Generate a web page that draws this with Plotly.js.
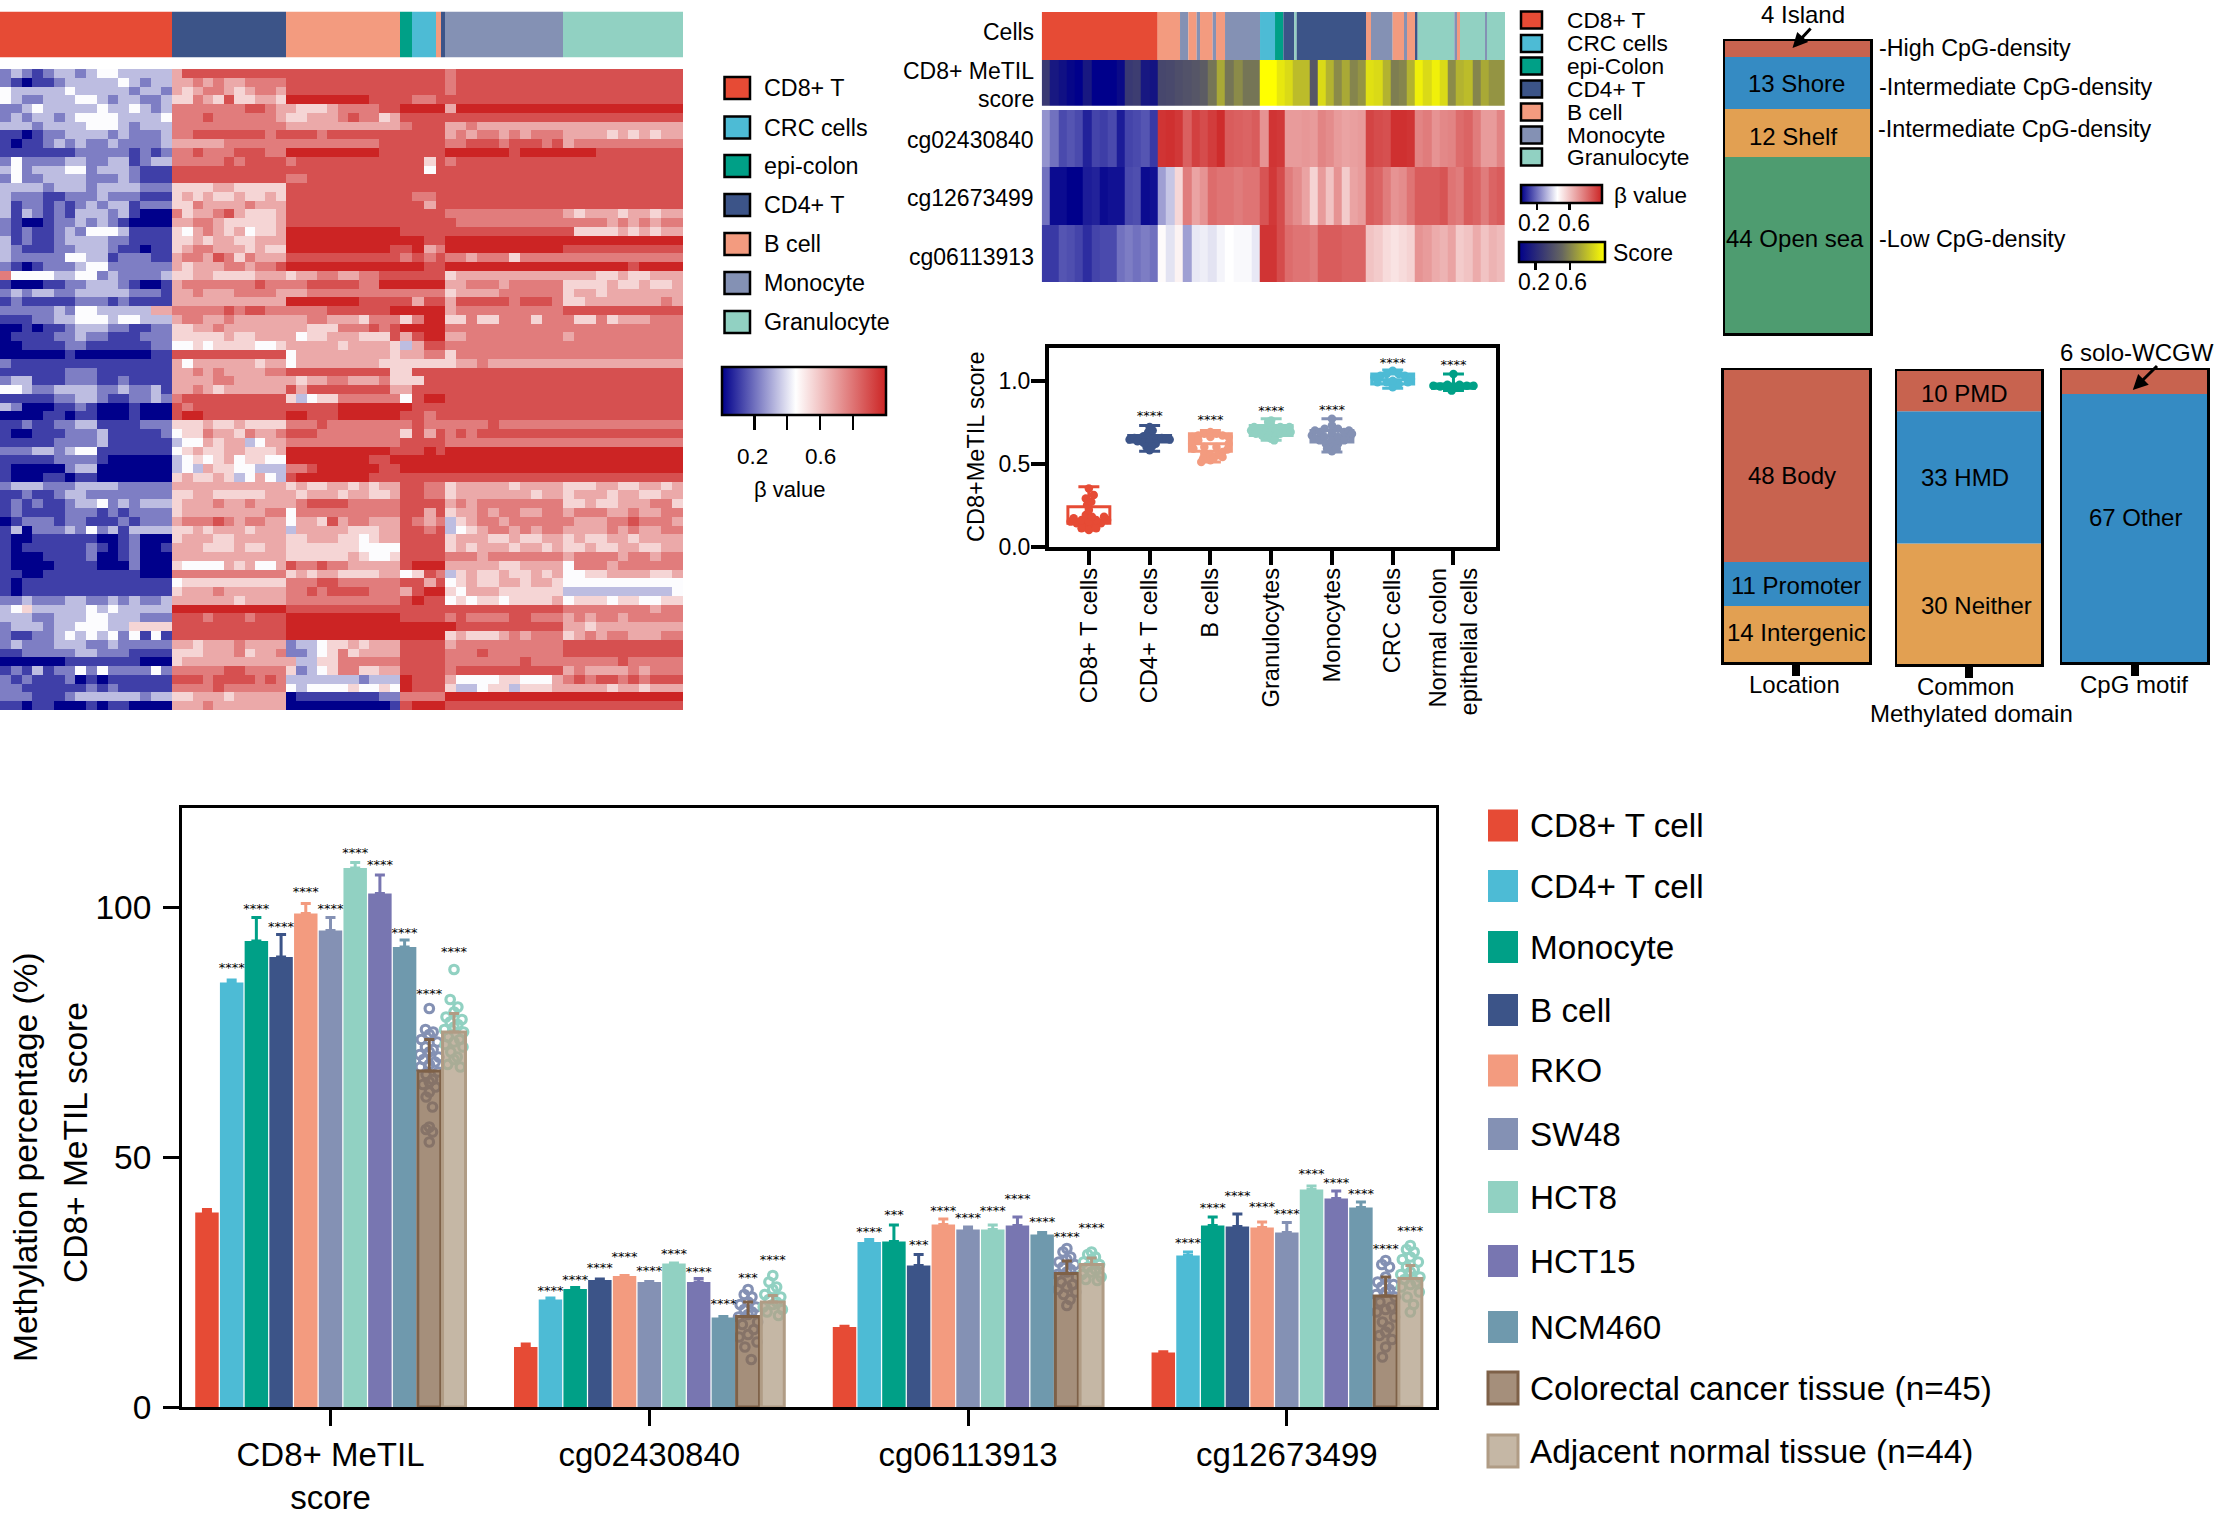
<!DOCTYPE html>
<html><head><meta charset="utf-8"><script src="https://cdn.plot.ly/plotly-3.0.1.min.js"></script>
<style>html,body{margin:0;padding:0;background:#fff}#c{width:2218px;height:1524px}</style></head><body><div id="c"></div>
<script>
const W=2218,H=1524,FONT='"Liberation Sans",Arial,sans-serif',STARFONT='"DejaVu Sans",sans-serif';
// ---------- palette
const cCD8='#E64B35',cCRC='#4DBBD5',cEpi='#00A087',cCD4='#3C5488',cB='#F39B7F',cMono='#8491B4',cGran='#91D1C2',cH15='#7876B1',cNCM='#6F99AD';
// ---------- left heat map (digits 0-9 = beta in ninths; groups: CD8+ T | CD4+ T | B cell | epi/CRC | Monocyte | Granulocyte)
const heatRows=[
"2321233234433333 68888888888 88888888888 8888 78888888888 88888888888",
"2101123333343233 66767667777 88888888888 8888 78888888888 88888888888",
"4333334333332332 65677656776 88888888888 8888 78888888888 88888888888",
"4322333443233223 55765855665 99999999888 8778 88888888888 88888888888",
"2234333334334323 77777778876 65556777788 9999 69999999999 99999999999",
"2323323444433334 77787777776 55666787756 8888 88888888888 88888888888",
"3332333344432333 77777777777 66666666666 7888 66766666666 66666666666",
"1101223333232223 77888888878 88878888888 8888 67677676777 66665656566",
"1011232322322223 66666777777 77777777788 8888 77888788878 67777777777",
"1111111222221212 77877788877 99999999988 8888 99999989999 99988888888",
"2422223322331233 77777878888 78888888888 8858 78888888888 88888888888",
"3423334423332111 88888888888 88888888888 8848 88888888888 88888888888",
"2422333322232111 88888888888 77888888888 8888 88888888888 88888888888",
"3333233323333222 55556655555 88888888888 8888 88888888888 88888888888",
"3222112223222111 56565565565 88888888888 8778 88888888888 88888888888",
"3122121232331222 55766667666 88888888888 8868 88888888888 88888888888",
"3132121333231000 75667865556 88888888888 8888 77777777777 65666566566",
"2100122323210000 66776555556 88888888888 8888 87777777777 77776767677",
"2121123244431111 54676564556 99999999999 8888 88888888888 85555656566",
"3121123333221111 55656655666 99999999999 9988 99999999999 99999999999",
"3211122333211011 56776665655 99999999998 8967 99999999999 88888888888",
"3222224433122211 67768757666 88888888888 7878 77677757777 77777777777",
"2101222344222222 65666776778 99999999999 9988 99999999999 99999989999",
"7444433442322223 55665555666 56677667788 8888 56666666666 66655655666",
"1000112233321001 67777777877 77888887799 9999 66777677777 55556556556",
"2323322333332221 66766677776 66777777777 7777 56666777777 56656666666",
"1211111222121111 66666666666 99999998888 8688 68888878887 55666666676",
"2222232443333366 77777878877 77778888889 9999 67777777777 88888888888",
"1112233444344333 67766766666 66776665777 5799 55755777577 75575666777",
"0010112333221122 55667666666 66555777878 9999 77777777777 77777777777",
"0111122322111222 55555655666 64556665558 6899 66777777777 67777777777",
"0011112211111122 44545555445 66666566665 3688 77777777777 77777777777",
"0000001000000011 88888888888 46666666665 6677 57777777777 77777777777",
"2111111111111111 64666666566 46666666655 5555 56676666666 66666666666",
"1111112221111111 66767666677 88888888885 5888 88888888888 88888888888",
"2331112221121111 66667766666 65667766675 5588 88888888888 88888888888",
"4432233332232231 66765666666 86888888886 6888 88888888888 88888888888",
"1111122332112232 78888888888 53455777777 4899 88888888888 88888888888",
"3200011210001000 87888888888 88888999999 9888 88888888888 88888888888",
"0000110110001000 89988888888 99888999999 8878 88888888888 88888888888",
"1121122331111222 55565565555 77787777777 7877 77778777777 77777777777",
"1001112223111112 45576657667 88877777777 5868 78788888888 88888888888",
"1111122223111111 34465663466 77777777777 8888 77777777777 77777777777",
"2223323441111111 45655665556 99999999998 8898 99999999999 99999999999",
"1111122221000000 34545645544 99999999889 9999 99999999999 99999999999",
"1000002330000000 34365544333 77899999988 9999 99999999999 99999999999",
"1000110110000000 56556534643 89999999888 8888 88888888888 88888888888",
"2333222333322222 66666666666 56556656566 8877 56666656666 55566556656",
"1121123322222222 55665555566 65666566556 8877 56666666566 56665665566",
"1212112334232333 56667667666 67888877777 8888 67677777777 55655666775",
"1211112221212222 56666666677 47777777777 8868 56676776677 67776676677",
"0122212211121222 67778767766 46658677666 8767 35677677777 76667787776",
"1302223242313333 55656665666 36666655566 8878 34567767677 66667676677",
"1001111110012000 56665566666 55666554566 8888 56665565566 56556656666",
"1011111121012001 66655565566 55555554444 8888 56566656656 55655665566",
"1000111120012000 66666666666 55555565445 8888 77767777777 67777677677",
"1000011110002000 54444656446 87787766666 8999 66666556666 47776777777",
"1100111111111000 77777777777 56566555566 4587 35655655656 44556666556",
"1011111111111111 45555555555 77788777777 8868 45655665665 44444444444",
"1011111111111111 56667666666 77878888777 6899 54666555555 33333333334",
"2232223322323223 66666656666 77777777777 8988 45455455556 45554554455",
"3453333343433333 99999999999 88888888888 8888 88888888888 77777777677",
"3332233344333222 88878887888 99999999999 8888 78777788777 67677677777",
"2333233444335555 88888888888 99999999999 9999 98888888888 66566666666",
"2112234343424141 88888888888 99999999999 9999 56555676777 56767766677",
"2322233322322222 66566676666 23345565666 8888 67777777777 88888888888",
"1122222332221111 55566675667 22345756666 8888 77787777777 88888888888",
"0000001111111000 56666666666 63355777777 8888 77777778777 77777877777",
"1213122424222242 77777887777 52345775566 8888 78888888888 67666676777",
"2121112010111111 88878888787 33333332333 9888 64444554446 78788787888",
"2211111121211111 77778777777 43444454454 9888 53345535556 66665665666",
"2221112333333233 55666566666 01111111122 7777 99999999999 99999999999",
"1101100010110000 66676666666 00000000001 8999 88888888888 88888888888"];
const heatCounts=[16,11,11,3,1,11,11], heatSpans=[172,114,114,36,9,118,120];
const annotLeftColors=[cCD8,cCD4,cB,cEpi,cCRC,cB,cCD4,cMono,cGran], annotLeftWidths=[172,114,114,12,24,5,4,118,120];
// ---------- mini heat map
const miniAnnotColors=[cCD8,cB,cMono,cB,cMono,cB,cMono,cB,cMono,cCRC,cEpi,cCD4,cGran,cCD4,cB,cMono,cB,cMono,cB,cCD4,cGran,cMono,cB,cGran,cMono,cGran];
const miniAnnotWidths=[348,67,25,25,10,38,10,27,105,45,25,33,7,208,15,65,34,9,24,8,110,8,9,75,6,54];
const miniCounts=[14,8,4,3,10,6,11], miniSpans=[348,202,105,75,243,147,270];
const miniScore=[.28,.12,.08,.03,0,.12,0,0,0,.05,.28,.3,.12,.1, .35,.36,.38,.4,.42,.45,.55,.72, .55,.62,.55,.55, 1,1,.92, .88,.78,.78,.42,.88,.75,.62,.72,.6,.65, .9,.88,.75,.58,.6,.75, .95,.88,.95,.88,.62,.75,.78,.6,.72,.65,.65];
const miniCg02=[.26,.2,.13,.15,.13,.06,.12,.11,.13,.05,.12,.13,.15,.1, .96,.97,.95,.85,.93,.9,.94,.98, .86,.85,.84,.86, .72,.96,.95, .7,.7,.71,.7,.76,.74,.7,.68,.69,.7, .92,.9,.89,.97,.97,.96, .76,.78,.72,.75,.76,.82,.84,.78,.7,.7,.76];
const miniCg12=[.2,.02,.02,0,0,.05,.06,.02,.03,.03,.13,.14,.02,.03, .28,.35,.55,.78,.68,.72,.82,.8, .8,.78,.8,.8, .88,.95,.9, .78,.74,.68,.56,.7,.6,.72,.58,.68,.7, .86,.84,.78,.72,.74,.8, .86,.86,.86,.88,.8,.78,.86,.84,.78,.84,.86];
const miniCg06=[.1,.1,.15,.14,.12,.08,.12,.13,.13,.2,.22,.2,.22,.2, .46,.4,.48,.28,.41,.42,.4,.43, .45,.44,.44,.41, .96,.96,.9, .82,.8,.8,.78,.86,.86,.86,.84,.84,.84, .6,.58,.54,.52,.54,.56, .72,.7,.66,.64,.68,.58,.6,.66,.6,.64,.62];
const miniRowNames=['cg02430840','cg12673499','cg06113913'];
// ---------- box panel
const boxCats=['CD8+ T cells','CD4+ T cells','B cells','Granulocytes','Monocytes','CRC cells','Normal colon<br>epithelial cells'];
const boxColors=[cCD8,cCD4,cB,cGran,cMono,cCRC,cEpi];
const boxQ1=[.14,.63,.575,.67,.63,.98,.955], boxMed=[.16,.65,.62,.70,.665,1.005,.965], boxQ3=[.24,.67,.68,.73,.70,1.04,.98];
const boxLo=[.10,.575,.51,.64,.57,.955,.94], boxHi=[.36,.73,.70,.77,.77,1.065,1.04];
const boxStarY=[null,.785,.76,.81,.82,1.105,1.09];
const swarmCD8=[[-.3,.15],[-.2,.14],[-.1,.13],[0,.12],[.1,.13],[.2,.14],[.3,.16],[-.25,.17],[-.12,.16],[0,.15],[.12,.16],[.25,.18],[-.05,.19],[.05,.18],[0,.22],[-.03,.25],[.04,.27],[-.05,.29],[.08,.31],[0,.10],[0,.35],[-.12,.11],[.12,.11]];
const swarmCD4=[[-.33,.645],[-.25,.655],[-.17,.65],[-.1,.665],[-.03,.68],[.05,.66],[.12,.645],[.2,.655],[.28,.65],[.33,.645],[0,.72],[-.02,.69],[.05,.7],[-.2,.635],[-.1,.625],[0,.63],[.1,.62],[-.05,.6],[.04,.605],[0,.58]];
const swarmB=[[-.3,.66],[-.3,.62],[-.28,.59],[-.2,.67],[-.2,.64],[-.1,.68],[-.1,.6],[0,.69],[0,.66],[.1,.68],[.1,.6],[.2,.67],[.3,.66],[.3,.62],[.28,.585],[.2,.57],[-.1,.56],[0,.55],[.12,.55],[.2,.54],[-.12,.53],[0,.52],[-.15,.51],[.05,.53]];
const swarmGran=[[-.33,.7],[-.28,.72],[-.25,.68],[-.17,.71],[-.15,.67],[-.08,.7],[-.05,.66],[0,.73],[0,.69],[0,.65],[.08,.7],[.08,.67],[.15,.72],[.15,.68],[.25,.7],[.3,.72],[.32,.69],[0,.76],[.05,.64],[-.05,.75]];
const swarmMono=[[-.33,.67],[-.28,.65],[-.28,.7],[-.2,.69],[-.2,.64],[-.12,.71],[-.12,.66],[-.1,.62],[0,.73],[0,.68],[0,.64],[0,.6],[.1,.71],[.1,.66],[.1,.62],[.2,.69],[.2,.64],[.28,.7],[.3,.66],[.33,.68],[0,.77],[0,.575],[-.08,.59],[.08,.59]];
const swarmCRC=[[-.3,1.02],[-.2,1.03],[-.1,1.04],[0,1.06],[.1,1.04],[.2,1.03],[.3,1.01],[-.25,.99],[-.1,.99],[0,.96],[.1,.98],[.25,.99],[0,1.0]];
const swarmNorm=[[-.33,.97],[-.22,.965],[-.12,.96],[0,.955],[.12,.96],[.22,.97],[.33,.97],[-.03,.94],[0,1.04],[.1,.975],[-.1,.975]];
const boxSwarms=[swarmCD8,swarmCD4,swarmB,swarmGran,swarmMono,swarmCRC,swarmNorm];
// ---------- stacked panels
const stackRed='#C8634F',stackBlue='#358BC3',stackOrange='#E2A052',stackGreen='#4E9C70';
const cpgVals=[44,12,13,4], cpgCols=[stackGreen,stackOrange,stackBlue,stackRed];
const locVals=[14,11,48], locCols=[stackOrange,stackBlue,stackRed];
const domVals=[30,33,10], domCols=[stackOrange,stackBlue,stackRed];
const motifVals=[67,6], motifCols=[stackBlue,stackRed];
// ---------- main bars
const mainCats=['CD8+ MeTIL<br>score','cg02430840','cg06113913','cg12673499'];
const mainNames=['CD8+ T cell','CD4+ T cell','Monocyte','B cell','RKO','SW48','HCT8','HCT15','NCM460','Colorectal cancer tissue (n=45)','Adjacent normal tissue (n=44)'];
const mainCols=[cCD8,cCRC,cEpi,cCD4,cB,cMono,cGran,cH15,cNCM,'rgba(135,106,79,.75)','rgba(178,159,135,.75)'];
const mainLines=[null,null,null,null,null,null,null,null,null,'#7E6148','#B09C85'];
const mainErrCols=[cCD8,cCRC,cEpi,cCD4,cB,cMono,cGran,cH15,cNCM,'#7E6148','#B09C85'];
const valScore=[38.9,84.9,93.2,90,98.7,95.3,107.8,102.7,92,67.2,75];
const errScore=[.6,.5,4.7,4.5,2,2.6,1.1,3.7,1.4,6.3,3.7];
const starScore=[null,87.7,99.4,95.9,102.9,99.4,110.7,108.2,94.7,82.5,90.9];
const val02=[12,21.5,23.6,25.4,26.2,25,28.7,25,17.9,18.1,21];
const err02=[.6,.3,.3,.2,.1,.1,.1,.7,.2,2.9,1.3];
const star02=[null,23,25.2,27.7,29.8,27,30.5,26.8,20.5,25.7,29.3];
const val06=[16,33,33.1,28.3,36.5,35.5,35.5,36.3,34.5,26.7,28.5];
const err06=[.15,.5,3.3,2.2,1.1,.5,.9,1.7,.4,2.5,1.3];
const star06=[null,34.9,38.3,32.3,39,37.7,39,41.5,36.9,33.9,35.7];
const val12=[10.9,30.3,36.3,36.1,35.9,34.9,43.5,41.7,39.9,22.2,25.7];
const err12=[.15,.7,1.7,2.5,1.1,2,.7,1.5,1.1,3.8,2.6];
const star12=[null,32.6,39.7,42.1,39.9,38.5,46.5,44.7,42.5,31.5,35.1];
const mainVals=[valScore,val02,val06,val12], mainErrs=[errScore,err02,err06,err12], mainStars=[starScore,star02,star06,star12];
const threeStar={ '1,9':1, '2,2':1, '2,3':1 };
const crcPts=[[79.7,75.5,75,74.5,73.5,73,72,71.5,71,70.5,70,69.5,69,68.5,68,67,66.5,65.5,65,64.5,64,63,62,60,56,55.5,55,53],
[23.5,22.5,22,21,20.5,20,19.5,19,18.5,18,17,16.5,15.5,14.5,14,13,12,9.5],
[31.7,31,30,29.5,29,28.5,28,27.5,27,26.5,26,25,24.5,24,23.5,23,22.5,21.5,20.3],
[29.3,28.5,28,26,25,24.5,24,23.5,23,22.5,22,21,20,19.5,19,18,17,16,15,14.3,13.5,12,10]];
const adjPts=[[87.5,81.5,80,79,78,77.5,77,76.5,76,75.5,75,74,73.5,73,72.5,72,71,70,69.5,68.5,68],
[26.3,25,24,23.5,22.5,22,21.5,21,20.5,20,19.5,19,18.3],
[31,30.5,30,29.5,29,28.5,28,27.5,27,26.5,26,25.5,25.3],
[32.3,31.5,31,30,29.5,29,28,27.5,27,26.5,26,25.5,25,24.5,24,23,22,20.5,19]];
const swarmDx=[0,-.012,.012,0,-.025,.025,-.012,.012,0,-.03,.03,-.018,.018,0,-.028,.028,-.01,.01,0,-.02,.02,0,-.01,.01,0,-.01,.01,0];
// ---------- legends
const heatLegendNames=['CD8+ T','CRC cells','epi-colon','CD4+ T','B cell','Monocyte','Granulocyte'];
const miniLegendNames=['CD8+ T','CRC cells','epi-Colon','CD4+ T','B cell','Monocyte','Granulocyte'];
const heatLegendCols=[cCD8,cCRC,cEpi,cCD4,cB,cMono,cGran];

// ---------- helpers
const xd=(a,b)=>[a/W,b/W], yd=(t,b)=>[1-b/H,1-t/H];
const cum=a=>{let s=0;return a.map(v=>{const o=s;s+=v;return o;});};
const sum=a=>a.reduce((p,v)=>p+v,0);
function edges(counts,spans){const e=[0];let p=0;counts.forEach((n,i)=>{const st=spans[i]/n;for(let k=1;k<=n;k++)e.push(p+st*k);p+=spans[i];});return e;}
const blank={showgrid:false,zeroline:false,showticklabels:false,ticks:'',showline:false,fixedrange:true};
const traces=[],shapes=[],anns=[],layout={};
function setAxes(n,xo,yo){layout['xaxis'+(n===1?'':n)]=Object.assign({anchor:'y'+(n===1?'':n)},blank,xo);layout['yaxis'+(n===1?'':n)]=Object.assign({anchor:'x'+(n===1?'':n)},blank,yo);}
const ax=n=>n===1?['x','y']:['x'+n,'y'+n];
function ann(text,x,y,size,anchor,angle,extra){anns.push(Object.assign({text,x:x/W,y:1-y/H,xref:'paper',yref:'paper',showarrow:false,xanchor:anchor||'center',yanchor:'middle',textangle:angle||0,font:{size,color:'#000',family:FONT}},extra||{}));}
function swatch(x0,x1,y0,y1,fill,lw,lc){shapes.push({type:'rect',xref:'paper',yref:'paper',x0:x0/W,x1:x1/W,y0:1-y1/H,y1:1-y0/H,fillcolor:fill,line:{width:lw||0,color:lc||'#000'},layer:'above'});}
function arrow(x,y,x0,y0){anns.push({text:'',x:x/W,y:1-y/H,xref:'paper',yref:'paper',showarrow:true,ax:x0-x,ay:y0-y,axref:'pixel',ayref:'pixel',arrowhead:2,arrowsize:1,arrowwidth:3,arrowcolor:'#000'});}
function hStack(n,widths,colors){const bases=cum(widths);widths.forEach((w,i)=>traces.push({type:'bar',orientation:'h',x:[w],base:[bases[i]],y:[0],width:[1],xaxis:ax(n)[0],yaxis:ax(n)[1],marker:{color:colors[i],line:{width:0}},hoverinfo:'skip'}));}
const betaScale=[[0,'#00008B'],[.45,'#FFFFFF'],[1,'#CC2424']];
const scoreScale=[[0,'#00008B'],[.5,'#666660'],[1,'#FFFF00']];
function cbar(x,y,len,th,vals,tl){return {orientation:'h',x:x/W,xanchor:'left',y:1-y/H,yanchor:'top',len,lenmode:'pixels',thickness:th,thicknessmode:'pixels',xpad:0,ypad:0,outlinecolor:'#000',outlinewidth:2.5,borderwidth:0,tickmode:'array',tickvals:vals,ticktext:vals.map(()=>' '),tickangle:0,ticks:'outside',ticklen:tl,tickwidth:2.5,tickcolor:'#000',tickfont:{size:8,color:'#000',family:FONT}};}

// ---------- left panel
hStack(1,annotLeftWidths,annotLeftColors);
setAxes(1,{domain:xd(0,683),range:[0,683]},{domain:yd(11.5,57.5),range:[-.5,.5]});
const heatZ=heatRows.map(r=>r.replace(/ /g,'').split('').map(d=>+d/9));
traces.push({type:'heatmap',z:heatZ,x:edges(heatCounts,heatSpans),xaxis:'x2',yaxis:'y2',zmin:0,zmax:1,colorscale:betaScale,hoverinfo:'skip',
 colorbar:cbar(721.6,367,164.4,48,[.2,.4,.6,.8],14)});
setAxes(2,{domain:xd(0,683),range:[0,683]},{domain:yd(69,710),autorange:'reversed'});
heatLegendNames.forEach((n,i)=>{const cy=[88,127.6,166,205,244,283,322][i];swatch(724.5,750,cy-11,cy+11,heatLegendCols[i],2.5);ann(n,762,cy,23.3,'left');});
ann('0.2',752.6,456,22.5);ann('0.6',820.3,456,22.5);
ann('β value',789,490,22);

// ---------- mini heat
hStack(4,miniAnnotWidths,miniAnnotColors);
setAxes(4,{domain:xd(1041.7,1505),range:[0,1390]},{domain:yd(12,60),range:[-.5,.5]});
const miniE=edges(miniCounts,miniSpans);
traces.push({type:'heatmap',z:[miniScore],x:miniE,xaxis:'x5',yaxis:'y5',zmin:0,zmax:1,colorscale:scoreScale,hoverinfo:'skip',
 colorbar:cbar(1518.5,242,85.5,20,[.2,.6],7)});
setAxes(5,{domain:xd(1041.7,1505),range:[0,1390]},{domain:yd(60,105.7)});
traces.push({type:'heatmap',z:[miniCg02,miniCg12,miniCg06],x:miniE,y:miniRowNames,xaxis:'x6',yaxis:'y6',zmin:0,zmax:1,colorscale:betaScale,hoverinfo:'skip',
 colorbar:cbar(1521,185,80.5,18,[.2,.6],6)});
setAxes(6,{domain:xd(1041.7,1505),range:[0,1390]},{domain:yd(110,282.3),autorange:'reversed',type:'category'});
[['Cells',32],['CD8+ MeTIL',71],['score',99],['cg02430840',140],['cg12673499',198],['cg06113913',257]].forEach(a=>ann(a[0],1036,a[1],23,'right'));
miniLegendNames.forEach((n,i)=>{const cy=[20,43.5,66,89,112,135,157][i];swatch(1521,1542,cy-8.5,cy+8.5,heatLegendCols[i],2.5);ann(n,1565,cy,22.7,'left');});
ann('β value',1612,195,22.5,'left');ann('Score',1611,253,23,'left');
ann('0.2',1534,223,23);ann('0.6',1573.6,223,23);ann('0.2',1533.5,282,23);ann('0.6',1571,282,23);

// ---------- box panel
boxCats.forEach((c,i)=>{
 traces.push({type:'box',x:[i],q1:[boxQ1[i]],median:[boxMed[i]],q3:[boxQ3[i]],lowerfence:[boxLo[i]],upperfence:[boxHi[i]],width:.69,whiskerwidth:.5,boxpoints:false,xaxis:'x9',yaxis:'y9',line:{color:boxColors[i],width:3},fillcolor:'rgba(255,255,255,0)',hoverinfo:'skip'});
 traces.push({type:'scatter',mode:'markers',x:boxSwarms[i].map(p=>i+p[0]),y:boxSwarms[i].map(p=>p[1]),xaxis:'x9',yaxis:'y9',marker:{size:8.5,color:boxColors[i]},hoverinfo:'skip'});
});
traces.push({type:'scatter',mode:'text',x:boxCats.map((c,i)=>i),y:boxStarY,text:boxStarY.map(v=>v==null?'':'****'),textposition:'middle center',textfont:{size:13,color:'#000',family:STARFONT},xaxis:'x9',yaxis:'y9',hoverinfo:'skip'});
setAxes(9,{domain:xd(1049,1496),range:[-.656,6.7],showline:true,linecolor:'#000',linewidth:4,mirror:true,tickmode:'array',tickvals:[0,1,2,3,4,5,6],ticktext:boxCats,showticklabels:true,ticks:'outside',ticklen:14,tickwidth:4,tickcolor:'#000',tickangle:-90,ticklabelstandoff:-6,tickfont:{size:23.7,color:'#000',family:FONT}},
 {domain:yd(347.5,546.5),range:[0,1.2],showline:true,linecolor:'#000',linewidth:4,mirror:true,tickmode:'array',tickvals:[0,.5,1],ticktext:['0.0','0.5','1.0'],showticklabels:true,ticks:'outside',ticklen:14,tickwidth:4,tickcolor:'#000',ticklabelstandoff:-4,tickfont:{size:23,color:'#000',family:FONT}});
ann('CD8+MeTIL score',976,447,23.5,'center',-90);

// ---------- stacked panels
function vStack(n,vals,cols,x0,x1,y0,y1,tick){const b=cum(vals);vals.forEach((v,i)=>traces.push({type:'bar',x:[0],y:[v],base:[b[i]],width:[1],xaxis:ax(n)[0],yaxis:ax(n)[1],marker:{color:cols[i],line:{width:0}},hoverinfo:'skip'}));
 setAxes(n,{domain:xd(x0,x1),range:[-.5,.5],showline:true,linecolor:'#000',linewidth:2.5,mirror:true,tickmode:'array',tickvals:tick?[tick]:[],ticks:tick?'outside':'',ticklen:11,tickwidth:8,tickcolor:'#000'},
 {domain:yd(y0,y1),range:[0,sum(vals)],showline:true,linecolor:'#000',linewidth:2.5,mirror:true});}
vStack(10,cpgVals,cpgCols,1725,1870,41,333,null);
vStack(11,locVals,locCols,1723.5,1869,370,662,.001);
vStack(12,domVals,domCols,1897,2041,371,664,.001);
vStack(13,motifVals,motifCols,2062,2207,370,662,.001);
[['13 Shore',1796.5,83.8],['12 Shelf',1792.5,136.4],['44 Open sea',1795,238.8],['48 Body',1791.5,475.8],['11 Promoter',1796,585],['14 Intergenic',1796.5,632],['10 PMD',1964,393],['33 HMD',1965,478],['30 Neither',1976,605],['67 Other',2135,517],
 ['4 Island',1803,15],['6 solo-WCGW',2137,352.4],['Location',1794,685],['Common',1965,686],['Methylated domain',1971,713.7],['CpG motif',2134,684]].forEach(a=>ann(a[0],a[1],a[2],24));
[['-High CpG-density',1877.4,47.5],['-Intermediate CpG-density',1877.4,86.6],['-Intermediate CpG-density',1876,129.4],['-Low CpG-density',1877.4,238.8]].forEach(a=>ann(a[0],a[1],a[2],23.3,'left'));
arrow(1792.5,48,1812,27);arrow(2132.8,390,2158.5,364.5);

// ---------- main panel
const step=.0775, off=k=>(k-5)*step;
[crcPts,adjPts].forEach((pts,j)=>{const xs=[],ys=[];pts.forEach((arr,g)=>arr.forEach((v,i)=>{xs.push(g+off(9+j)+swarmDx[i%swarmDx.length]);ys.push(v);}));
 const col=j?cGran:cMono;
 traces.push({type:'scatter',mode:'markers',x:xs,y:ys,xaxis:'x14',yaxis:'y14',marker:{symbol:'circle-open',size:8.5,color:col,line:{width:3.2,color:col}},hoverinfo:'skip'});});
mainNames.forEach((nm,k)=>{
 const ln=mainLines[k];
 traces.push({type:'bar',name:nm,x:mainCats.map((c,g)=>g+off(k)),y:mainVals.map(a=>a[k]),width:step*(ln?.93:.95),xaxis:'x14',yaxis:'y15',marker:{color:mainCols[k],line:{width:ln?3:0,color:ln||'rgba(0,0,0,0)'}},
  error_y:{type:'data',symmetric:false,array:mainErrs.map(a=>a[k]),arrayminus:mainErrs.map(()=>0),color:mainErrCols[k],thickness:3,width:5},hoverinfo:'skip'});
});
{const xs=[],ys=[],ts=[];mainStars.forEach((a,g)=>a.forEach((v,k)=>{if(v==null)return;xs.push(g+off(k));ys.push(v);ts.push(threeStar[g+','+k]?'***':'****');}));
 traces.push({type:'scatter',mode:'text',x:xs,y:ys,text:ts,textposition:'middle center',textfont:{size:13,color:'#000',family:STARFONT},xaxis:'x14',yaxis:'y15',hoverinfo:'skip'});}
setAxes(14,{domain:xd(182,1436),range:[-.4658,3.468],showline:true,linecolor:'#000',linewidth:3,mirror:true,tickmode:'array',tickvals:[0,1,2,3],ticktext:mainCats,showticklabels:true,ticks:'outside',ticklen:16,tickwidth:3,tickcolor:'#000',tickfont:{size:33,color:'#000',family:FONT}},
 {domain:yd(808,1407),range:[0,119.8],showline:true,linecolor:'#000',linewidth:3,mirror:true,tickmode:'array',tickvals:[0,50,100],ticktext:['0','50','100'],showticklabels:true,ticks:'outside',ticklen:16,tickwidth:3,tickcolor:'#000',ticklabelstandoff:5,tickfont:{size:33.5,color:'#000',family:FONT}});
layout.yaxis15=Object.assign({},blank,{overlaying:'y14',range:[0,119.8],anchor:'x14',domain:yd(808,1407)});
ann('Methylation percentage (%)',25,1157,33.5,'center',-90);
ann('CD8+ MeTIL score',75,1142,33.5,'center',-90);
mainNames.forEach((n,i)=>{const cy=[825.5,886,947,1010,1070.5,1134,1197,1261,1327,1388,1451][i];
 const fill=['#E64B35','#4DBBD5','#00A087','#3C5488','#F39B7F','#8491B4','#91D1C2','#7876B1','#6F99AD','#A58F7B','#C5B7A5'][i];
 swatch(1488,1518,cy-16,cy+16,fill,mainLines[i]?3:0,mainLines[i]);ann(n,1528,cy,33.3,'left');});

Object.assign(layout,{width:W,height:H,margin:{l:0,r:0,t:0,b:0},paper_bgcolor:'#fff',plot_bgcolor:'rgba(0,0,0,0)',showlegend:false,barmode:'overlay',boxmode:'overlay',font:{family:FONT,color:'#000'},shapes,annotations:anns});
Plotly.newPlot('c',traces,layout,{staticPlot:true,displayModeBar:false});
</script></body></html>
